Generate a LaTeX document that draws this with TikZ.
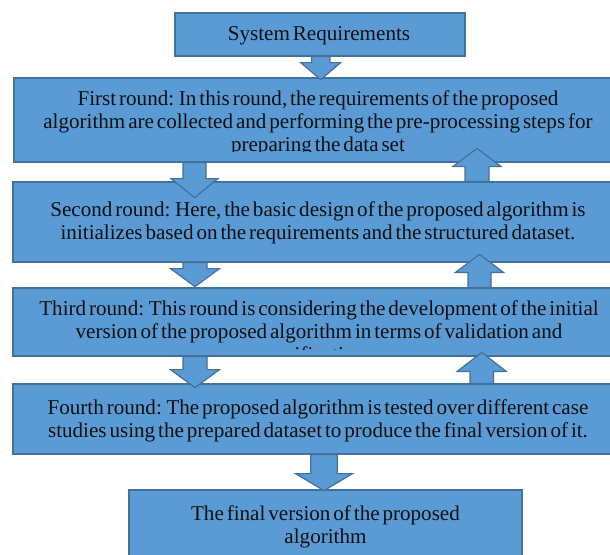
\documentclass[tikz,border=0pt]{standalone}
\usepackage{fontspec}
\setmainfont{Liberation Serif}[WordSpace=0.55]
\definecolor{boxfill}{HTML}{5B9BD5}
\definecolor{boxline}{HTML}{41719C}
\definecolor{ink}{HTML}{101010}
% block arrow pointing down: start point, shaft length, head length, shaft half-width, head half-width
\newcommand\blockdn[5]{%
  \draw[blockarrow] (#1) ++(-#4,0) -- ++(0,#2) -- ++(#4-#5,0) -- ++(#5,#3)
    -- ++(#5,-#3) -- ++(#4-#5,0) -- ++(0,-#2) -- cycle;}
% block arrow pointing up, same arguments
\newcommand\blockup[5]{%
  \draw[blockarrow] (#1) ++(-#4,0) -- ++(0,-#2) -- ++(#4-#5,0) -- ++(#5,-#3)
    -- ++(#5,#3) -- ++(#4-#5,0) -- ++(0,#2) -- cycle;}
\begin{document}
\begin{tikzpicture}[x=1pt,y=-1pt,
  panel/.style={draw=boxline, fill=boxfill, line width=1.2pt, inner sep=0pt},
  blockarrow/.style={draw=boxline, fill=boxfill, line width=1.2pt, line join=miter},
  label/.style={text=ink, align=center, inner sep=0pt,
    font=\fontsize{21.1}{23}\selectfont}]
\useasboundingbox (0,0) rectangle (610,554);
\clip (0,0) rectangle (610,554);

% boxes
\node[panel, minimum width=290pt, minimum height=43pt] (b1) at (320,34.5) {};
\node[panel, minimum width=608pt, minimum height=84pt] (b2) at (318,120) {};
\node[panel, minimum width=609pt, minimum height=80pt] (b3) at (317.5,222) {};
\node[panel, minimum width=609pt, minimum height=68pt] (b4) at (317.5,322) {};
\node[panel, minimum width=609pt, minimum height=70pt] (b5) at (317.5,419) {};
\node[panel, minimum width=393pt, minimum height=90pt] (b6) at (325.5,535) {};

% texts
\node[label] (t1) at (319,36) {System Requirements};
\begin{scope}
  \clip (0,78) rectangle (610,151);
  \node[label] (t2) at (318,123) {First round: In this round, the requirements of the proposed\\
    algorithm are collected and performing the pre-processing steps for\\
    preparing the data set};
\end{scope}
\node[label] (t3) at (318,222.5) {Second round: Here, the basic design of the proposed algorithm is\\
  initializes based on the requirements and the structured dataset.};
\begin{scope}
  \clip (0,288) rectangle (610,349.5);
  \node[label] (t4) at (319,331) {Third round: This round is considering the development of the initial\\
    version of the proposed algorithm in terms of validation and\\
    verification.};
\end{scope}
\node[label] (t5) at (318,420.5) {Fourth round: The proposed algorithm is tested over different case\\
  studies using the prepared dataset to produce the final version of it.};
\node[label] (t6) at (325.5,527) {The final version of the proposed\\algorithm};

% arrow axes
\coordinate (xa) at (320.7,0);
\coordinate (xb) at (194.5,0);
\coordinate (xc) at (195,0);
\coordinate (xd) at (324,0);
\coordinate (xu1) at (477,0);
\coordinate (xu2) at (479.5,0);
\coordinate (xu3) at (481.7,0);

% downward flow
\blockdn{xa |- b1.south}{6}{17}{9.2}{20}
\blockdn{xb |- b2.south}{16}{19}{11.5}{23.5}
\blockdn{xc |- b3.south}{6}{18}{12}{24.5}
\blockdn{xc |- b4.south}{13}{18}{12}{24.5}
\blockdn{xd |- b5.south}{19}{17}{13.3}{28.5}
% feedback
\blockup{xu1 |- b3.north}{15}{18}{12}{24}
\blockup{xu2 |- b4.north}{15}{18}{11.5}{24}
\blockup{xu3 |- b5.north}{12}{19}{11.7}{24.5}
\end{tikzpicture}
\end{document}
